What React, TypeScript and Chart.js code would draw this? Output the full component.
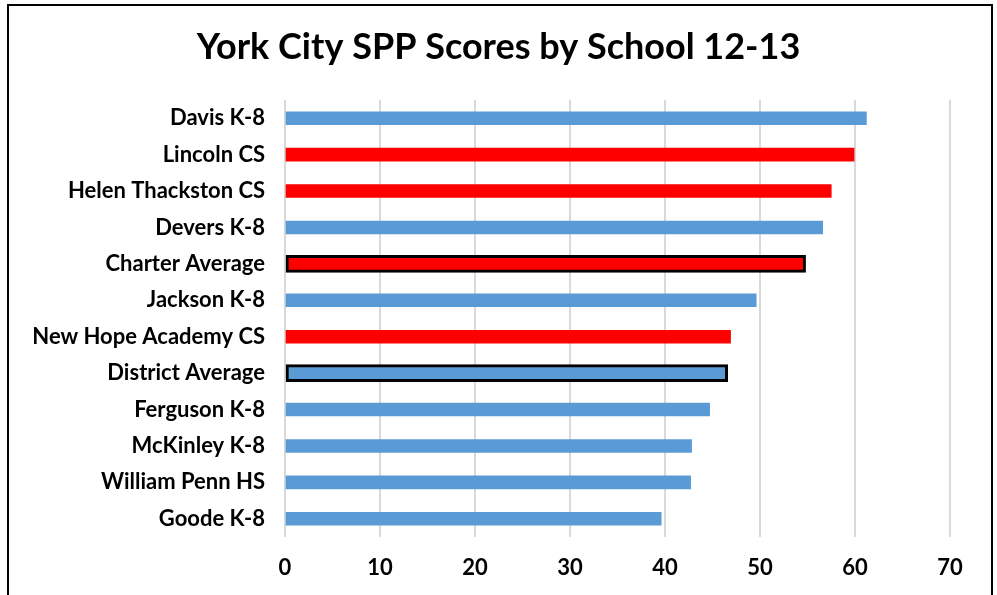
import React, { useEffect, useRef } from "react";
import { Chart, registerables } from "chart.js";

Chart.register(...registerables);

const TITLE = "York City SPP Scores by School 12-13";

const schools = [
  "Davis K-8",
  "Lincoln CS",
  "Helen Thackston CS",
  "Devers K-8",
  "Charter Average",
  "Jackson K-8",
  "New Hope Academy CS",
  "District Average",
  "Ferguson K-8",
  "McKinley K-8",
  "William Penn HS",
  "Goode K-8",
];

const scores = [61.2, 59.9, 57.5, 56.6, 54.8, 49.6, 46.9, 46.6, 44.7, 42.8, 42.7, 39.6];

// true = charter school (red), false = district (blue)
const isCharter = [false, true, true, false, true, false, true, false, false, false, false, false];

// averages get a black outline
const isAverage = [false, false, false, false, true, false, false, true, false, false, false, false];

const xTicks = [0, 10, 20, 30, 40, 50, 60, 70];

const BLUE = "#5b9bd5";
const RED = "#ff0000";
const FONT = "Lato, 'Open Sans', 'DejaVu Sans', sans-serif";

const framePlugin = {
  id: "frameAndTitle",
  afterDraw(chart: any) {
    const ctx = chart.ctx;
    ctx.save();
    ctx.strokeStyle = "#000";
    ctx.lineWidth = 2;
    ctx.strokeRect(8, 5, 984, 700);
    ctx.fillStyle = "#000";
    ctx.font = `bold 36px ${FONT}`;
    ctx.textAlign = "center";
    ctx.textBaseline = "middle";
    ctx.fillText(TITLE, chart.width / 2, 47);
    ctx.restore();
  },
};

export default function App() {
  const ref = useRef<HTMLCanvasElement | null>(null);

  useEffect(() => {
    document.body.style.margin = "0";
    const canvas = ref.current;
    if (!canvas) return;
    const colors = isCharter.map((c) => (c ? RED : BLUE));
    const chart = new Chart(canvas, {
      type: "bar",
      data: {
        labels: schools,
        datasets: [
          {
            label: "Averages",
            data: scores.map((v, i) => (isAverage[i] ? v : null)),
            backgroundColor: colors,
            borderColor: "#000",
            borderWidth: 3,
            borderSkipped: false,
            barThickness: 17,
            grouped: false,
            order: 0,
          } as any,
          {
            label: "SPP Score",
            data: scores.map((v, i) => (isAverage[i] ? null : v)),
            backgroundColor: colors,
            borderWidth: 0,
            barThickness: 13,
            grouped: false,
            order: 1,
          } as any,
        ],
      },
      options: {
        indexAxis: "y",
        responsive: false,
        animation: false,
        devicePixelRatio: 1,
        layout: { padding: { left: 0, right: 47, top: 100, bottom: 0 } },
        plugins: {
          legend: { display: false },
          tooltip: { enabled: false },
          title: { display: false },
        },
        scales: {
          x: {
            type: "linear",
            min: xTicks[0],
            max: xTicks[xTicks.length - 1],
            afterBuildTicks: (s: any) => {
              s.ticks = xTicks.map((v) => ({ value: v }));
            },
            ticks: {
              color: "#000",
              font: { family: FONT, size: 22, weight: "bold" },
              padding: 18,
            },
            grid: { color: "#d9d9d9", lineWidth: 2, drawTicks: false },
            border: { display: false },
            afterFit: (s: any) => {
              s.height = 58;
            },
          },
          y: {
            ticks: {
              color: "#000",
              font: { family: FONT, size: 22, weight: "bold" },
              padding: 20,
            },
            grid: { display: false, drawTicks: false },
            border: { display: false },
            afterFit: (s: any) => {
              s.width = 285;
            },
          },
        },
      },
      plugins: [framePlugin],
    } as any);
    return () => chart.destroy();
  }, []);

  return (
    <div style={{ width: 997, height: 595, background: "#fff" }}>
      <canvas ref={ref} width={997} height={595} style={{ display: "block" }} />
    </div>
  );
}
